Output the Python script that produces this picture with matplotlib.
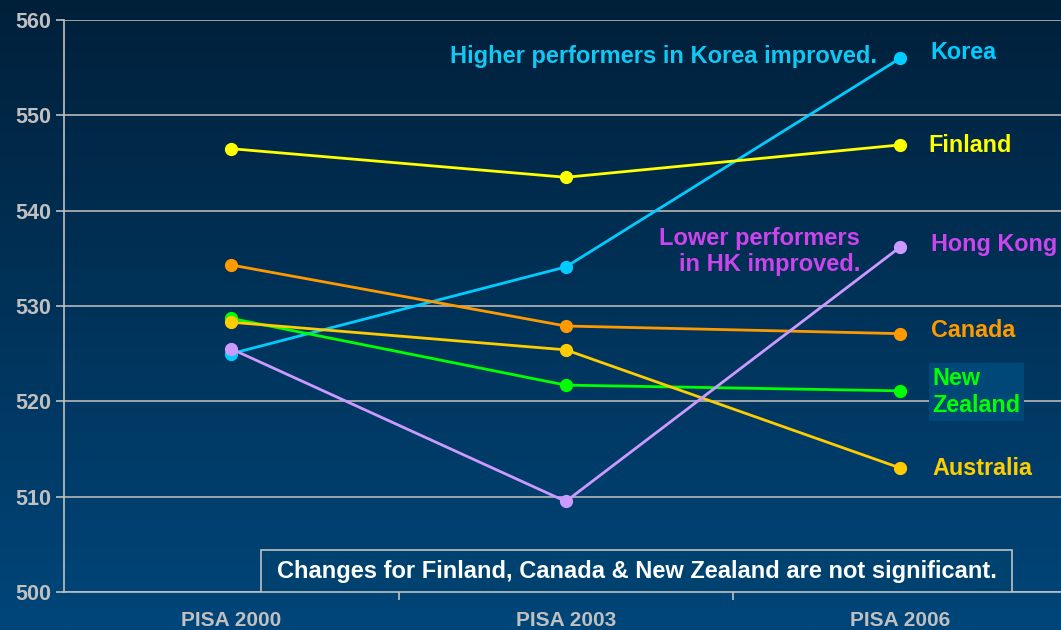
import numpy as np
import matplotlib
matplotlib.use("Agg")
import matplotlib.pyplot as plt
from matplotlib.patches import Rectangle
from matplotlib.colors import LinearSegmentedColormap

plt.rcParams["font.family"] = ["Liberation Sans", "DejaVu Sans"]
plt.rcParams["font.weight"] = "bold"

# data
waves = ["PISA 2000", "PISA 2003", "PISA 2006"]
korea = [525.0, 534.1, 556.0]
finland = [546.5, 543.5, 546.9]
canada = [534.3, 527.9, 527.1]
new_zealand = [528.7, 521.7, 521.1]
australia = [528.3, 525.4, 513.0]
hong_kong = [525.5, 509.5, 536.2]

grey = "#c0c0c0"
fig = plt.figure(figsize=(10.61, 6.30), dpi=100)

# background gradient
bg = fig.add_axes([0, 0, 1, 1], zorder=-10)
cmap = LinearSegmentedColormap.from_list("bg", ["#00203a", "#00467a"])
bg.imshow(np.linspace(0, 1, 256).reshape(-1, 1), aspect="auto", cmap=cmap,
          extent=[0, 1, 0, 1])
bg.axis("off")

ax = fig.add_axes([64 / 1061, 38 / 630, 997 / 1061, 572 / 630])
ax.set_facecolor("none")
x = np.arange(len(waves))

series = [
    (korea, "#00ccff"),
    (finland, "#ffff00"),
    (canada, "#ff9900"),
    (new_zealand, "#00ff00"),
    (australia, "#ffcc00"),
    (hong_kong, "#cc99ff"),
]
for vals, col in series:
    ax.plot(x, vals, color=col, lw=2.0, marker="o", ms=8.5, zorder=3)

ax.set_xlim(-0.5, 2.48)
ax.set_ylim(500, 560)
ax.set_yticks(range(500, 561, 10))
ax.grid(axis="y", color="#b8b8b8", lw=1.2)
ax.set_axisbelow(True)

ax.set_xticks(x)
ax.set_xticklabels(waves)
ax.set_xticks([0.5, 1.5], minor=True)
ax.tick_params(axis="x", which="major", length=0, pad=14, labelsize=15,
               labelcolor=grey)
ax.tick_params(axis="x", which="minor", length=6, color=grey, width=1.2)
ax.tick_params(axis="y", length=6, color=grey, width=1.2, labelsize=15.5,
               labelcolor=grey, pad=3)
for lab in ax.get_xticklabels() + ax.get_yticklabels():
    lab.set_fontweight("bold")

for side in ["top", "right"]:
    ax.spines[side].set_visible(False)
for side in ["left", "bottom"]:
    ax.spines[side].set_color(grey)
    ax.spines[side].set_linewidth(1.2)

# country labels
lx = 2.09
fs = 16.8
ax.text(lx, korea[2] + 0.6, "Korea", color="#00ccff", fontsize=fs,
        fontweight="bold", va="center")
ax.text(lx - 0.005, finland[2] - 0.1, "Finland", color="#ffff00", fontsize=fs,
        fontweight="bold", va="center")
ax.text(lx, hong_kong[2] + 0.2, "Hong Kong", color="#cc44ee", fontsize=fs,
        fontweight="bold", va="center")
ax.text(lx, canada[2] + 0.3, "Canada", color="#ff9900", fontsize=fs,
        fontweight="bold", va="center")
ax.text(lx + 0.005, new_zealand[2] - 0.1, "New\nZealand", color="#00ff00",
        fontsize=fs, fontweight="bold", va="center", linespacing=1.25,
        bbox=dict(boxstyle="square,pad=0.15", fc="#004878", ec="none"))
ax.text(lx + 0.005, australia[2] + 0.0, "Australia", color="#ffcc00",
        fontsize=fs, fontweight="bold", va="center")

ax.text(1.93, 556.2, "Higher performers in Korea improved.", color="#11c8f5",
        fontsize=17, fontweight="bold", ha="right", va="center")
ax.text(1.88, 535.7, "Lower performers\nin HK improved.", color="#cc44ee",
        fontsize=17, fontweight="bold", ha="right", va="center",
        multialignment="right", linespacing=1.2)

# footnote box
ax.add_patch(Rectangle((0.089, 500), 2.245, 4.4, fc="#00426f", ec=grey,
                       lw=1.2, zorder=4))
ax.text(0.089 + 2.245 / 2, 502.2,
        "Changes for Finland, Canada & New Zealand are not significant.",
        color="white", fontsize=17, fontweight="bold", ha="center",
        va="center", zorder=5)

fig.savefig("out.png", dpi=100)
